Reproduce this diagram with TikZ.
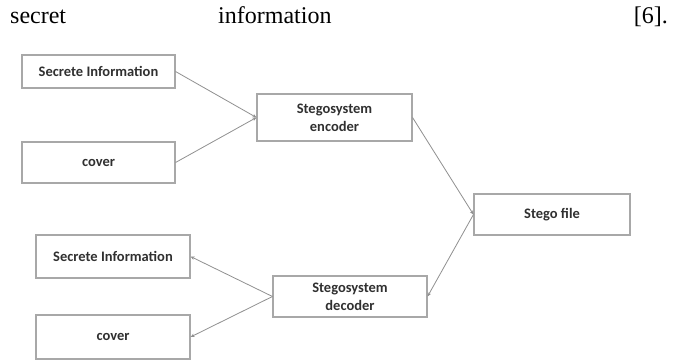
\documentclass[tikz,border=0pt]{standalone}
\usepackage{fontspec}
\setmainfont{Liberation Serif}
\newfontfamily\boxfont{Carlito}
\usetikzlibrary{arrows.meta}
\definecolor{boxline}{HTML}{A8A8A8}
\definecolor{boxtext}{HTML}{303030}
\definecolor{linkline}{HTML}{909090}
\tikzset{
  blockbox/.style={draw=boxline, line width=1.1pt, fill=white, inner sep=0pt,
    align=center, text=boxtext, font=\boxfont\bfseries\fontsize{14.5}{18}\selectfont},
  link/.style={draw=linkline, line width=0.8pt, -{Stealth[length=4pt,width=3.5pt]}},
  bodytext/.style={inner sep=0pt, anchor=base west, font=\fontsize{24}{27}\selectfont}
}
\begin{document}
\begin{tikzpicture}[x=1pt,y=-1pt]
\useasboundingbox[fill=white] (0,0) rectangle (678,361);
\node[bodytext] (w1) at (10,24) {secret};
\node[bodytext] (w2) at (218,24) {information};
\node[bodytext, anchor=base east] (w3) at (668,24) {[6].};

\node[blockbox, minimum width=153pt, minimum height=33pt] (s1) at (98.5,71.5) {Secrete Information};
\node[blockbox, minimum width=153pt, minimum height=41pt] (c1) at (98.5,162.5) {cover};
\node[blockbox, minimum width=155pt, minimum height=47pt] (enc) at (334.5,117.5) {Stegosystem\\encoder};
\node[blockbox, minimum width=156pt, minimum height=41pt] (sf) at (552,214.5) {Stego file};
\node[blockbox, minimum width=154pt, minimum height=43pt] (s2) at (113,256.5) {Secrete Information};
\node[blockbox, minimum width=154pt, minimum height=44pt] (c2) at (113,337) {cover};
\node[blockbox, minimum width=154pt, minimum height=41pt] (dec) at (350,296.5) {Stegosystem\\decoder};

\draw[link] (s1.east) -- (enc.west);
\draw[link] (c1.east) -- (enc.west);
\draw[link] (enc.east) -- (sf.west);
\draw[link] (sf.west) -- (dec.east);
\draw[link] (dec.west) -- (s2.east);
\draw[link] (dec.west) -- (c2.east);
\end{tikzpicture}
\end{document}
